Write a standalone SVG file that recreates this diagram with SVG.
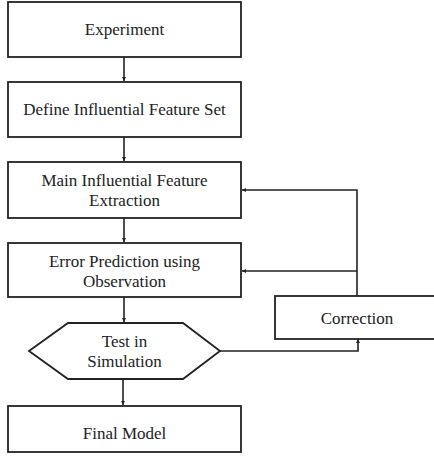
<svg xmlns="http://www.w3.org/2000/svg" width="434" height="463" viewBox="0 0 434 463">
<defs>
<style>
.box{fill:#fff;stroke:#222;stroke-width:1.8}
.ln{fill:none;stroke:#222;stroke-width:1.6}
.t{font-family:"Liberation Serif","Times New Roman",serif;font-size:17px;fill:#222;text-anchor:middle}
</style>
<marker id="ah" viewBox="0 0 10 10" refX="10" refY="5" markerWidth="4" markerHeight="4" orient="auto" markerUnits="userSpaceOnUse">
<path d="M0,0 L10,5 L0,10 z" fill="#222"/>
</marker>
</defs>
<rect width="434" height="463" fill="#fff"/>
<g id="connectors">
<path class="ln" d="M124,57 V81" marker-end="url(#ah)"/>
<path class="ln" d="M124,137 V161" marker-end="url(#ah)"/>
<path class="ln" d="M124,218 V242" marker-end="url(#ah)"/>
<path class="ln" d="M124,297 V322" marker-end="url(#ah)"/>
<path class="ln" d="M123,379 V405" marker-end="url(#ah)"/>
<path class="ln" d="M357,296 V190 H242" marker-end="url(#ah)"/>
<path class="ln" d="M357,271 H242" marker-end="url(#ah)"/>
<path class="ln" d="M220,351 H358 V339" marker-end="url(#ah)"/>
</g>
<g id="experiment">
<rect class="box" x="8" y="2" width="233" height="55"/>
<text class="t" x="124.5" y="34.5">Experiment</text>
</g>
<g id="define">
<rect class="box" x="8" y="82" width="233" height="55"/>
<text class="t" x="124.5" y="115">Define Influential Feature Set</text>
</g>
<g id="main">
<rect class="box" x="8" y="162" width="233" height="56"/>
<text class="t" x="124.5" y="186">Main Influential Feature</text>
<text class="t" x="124.5" y="206">Extraction</text>
</g>
<g id="error">
<rect class="box" x="8" y="243" width="233" height="54"/>
<text class="t" x="124.5" y="267">Error Prediction using</text>
<text class="t" x="124.5" y="287">Observation</text>
</g>
<g id="test">
<polygon class="box" points="29,351 68,323 183,323 220,351 183,379 68,379"/>
<text class="t" x="124.5" y="347">Test in</text>
<text class="t" x="124.5" y="367">Simulation</text>
</g>
<g id="correction">
<rect class="box" x="275" y="296" width="166" height="43"/>
<text class="t" x="357" y="324">Correction</text>
</g>
<g id="final">
<rect class="box" x="8" y="406" width="233" height="46"/>
<text class="t" x="124.5" y="439">Final Model</text>
</g>
</svg>
